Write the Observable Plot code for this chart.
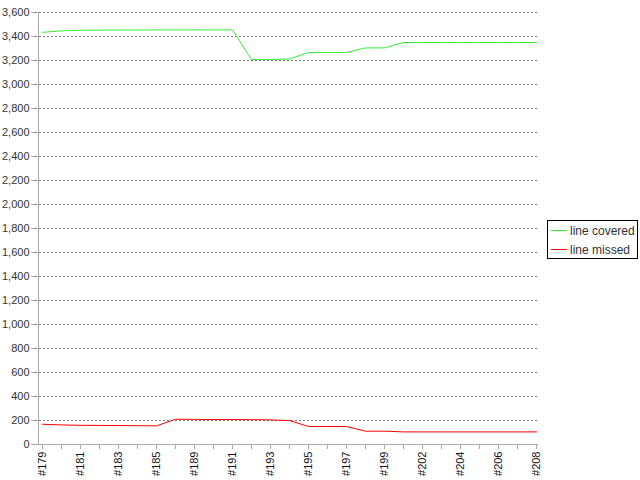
<!DOCTYPE html>
<html>
<head>
<meta charset="utf-8">
<script src="https://cdn.jsdelivr.net/npm/d3@7"></script>
<script src="https://cdn.jsdelivr.net/npm/@observablehq/plot@0.6"></script>
<style>
  html, body { margin: 0; padding: 0; background: #fff; }
  #wrap { position: relative; width: 640px; height: 480px; font-family: "Liberation Sans", Arial, sans-serif; }
  #legend { position: absolute; left: 547px; top: 220px; width: 89px; height: 37px; border: 1px solid #000; background: #fff; font-size: 12px; color: #333; }
  .item { position: absolute; left: 3px; height: 16px; line-height: 16px; white-space: nowrap; }
  .sw { display: inline-block; width: 16px; height: 0; border-top: 1px solid; vertical-align: middle; margin-right: 3px; position: relative; top: -1px; }
</style>
</head>
<body>
<div id="wrap"><div id="legend"></div></div>
<script>
const builds = ["#179","#180","#181","#182","#183","#184","#185","#187","#189","#190","#191","#192","#193","#194","#195","#196","#197","#198","#199","#200","#202","#203","#204","#205","#206","#207","#208"];
const covered = [3435,3447,3452,3453,3454,3454,3455,3455,3455,3455,3455,3208,3208,3213,3267,3267,3267,3305,3305,3350,3350,3350,3350,3350,3350,3350,3350];
const missed  = [169,163,160,159,158,157,155,211,209,208,208,207,205,200,150,150,150,111,111,105,105,105,105,105,105,105,105];
const seriesNames = ["line covered", "line missed"];
const seriesColors = ["#33ee33", "#ff0000"];
const yTicks = d3.range(0, 3601, 200);

const rows = [];
builds.forEach((b, i) => {
  rows.push({build: b, value: covered[i], series: seriesNames[0]});
  rows.push({build: b, value: missed[i], series: seriesNames[1]});
});

const labelSet = new Set(builds.filter((b, i) => i % 2 === 0));

const chart = Plot.plot({
  width: 640,
  height: 480,
  marginLeft: 35,
  marginRight: 102,
  marginTop: 12,
  marginBottom: 36,
  style: {fontFamily: "Liberation Sans, Arial, sans-serif", fontSize: "11px", color: "#333", background: "transparent"},
  x: {type: "point", domain: builds, padding: 0, insetLeft: 4, label: null},
  y: {domain: [0, 3600], label: null},
  color: {domain: seriesNames, range: seriesColors},
  marks: [
    Plot.gridY(yTicks, {stroke: "#777", strokeOpacity: 1, strokeDasharray: "2,2"}),
    Plot.ruleY([0], {stroke: "#aaa"}),
    Plot.ruleX([builds[0]], {y1: 0, y2: 3600, dx: -4, stroke: "#aaa"}),
    Plot.axisY(yTicks, {tickFormat: d3.format(","), tickSize: 4, tickPadding: 2, stroke: "#aaa", fill: "#333", label: null}),
    Plot.axisX(builds, {tickRotate: -90, tickSize: 5, tickPadding: 2, stroke: "#aaa", fill: "#111", tickFormat: d => labelSet.has(d) ? d : "", label: null}),
    Plot.line(rows, {x: "build", y: "value", z: "series", stroke: "series", strokeWidth: 1})
  ]
});
document.getElementById("wrap").prepend(chart);

const legend = document.getElementById("legend");
seriesNames.forEach((n, i) => {
  const it = document.createElement("div");
  it.className = "item";
  it.style.top = (2 + i * 19) + "px";
  it.innerHTML = `<span class="sw" style="border-color:${seriesColors[i]}"></span>${n}`;
  legend.appendChild(it);
});
</script>
</body>
</html>
